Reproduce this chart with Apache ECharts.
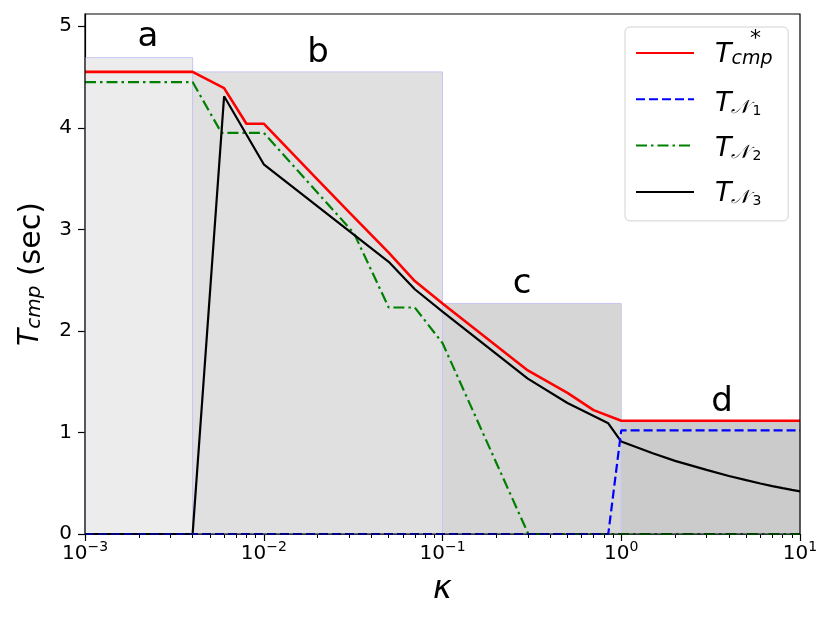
<!DOCTYPE html>
<html><head><meta charset="utf-8">
<script src="https://cdn.jsdelivr.net/npm/echarts@6/dist/echarts.min.js"></script>
<style>html,body{margin:0;padding:0;background:#fff}#c{width:830px;height:623px}</style>
</head><body><div id="c"></div>
<script>
// ---- data ----
const kCmp = [0.001, 0.004, 0.006, 0.008, 0.01, 0.02, 0.03, 0.05, 0.07, 0.1, 0.3, 0.5, 0.7, 1, 10];
const tCmp = [4.55, 4.55, 4.39, 4.04, 4.04, 3.49, 3.17, 2.77, 2.49, 2.27, 1.61, 1.39, 1.22, 1.115, 1.115];

const kN1 = [0.001, 0.846, 1, 10];
const tN1 = [0, 0, 1.02, 1.02];

const kN2 = [0.001, 0.004, 0.0058, 0.01, 0.032, 0.05, 0.07, 0.1, 0.302, 10];
const tN2 = [4.45, 4.45, 3.95, 3.95, 2.96, 2.23, 2.23, 1.88, 0, 0];

const kN3 = [0.001, 0.004, 0.006, 0.01, 0.05, 0.07, 0.1, 0.3, 0.5, 0.846, 1, 1.5, 2, 3, 4, 5, 6, 7, 8, 9, 10];
const tN3 = [0, 0, 4.31, 3.64, 2.68, 2.41, 2.19, 1.53, 1.29, 1.09, 0.91, 0.795, 0.72, 0.631, 0.571, 0.53, 0.497, 0.472, 0.451, 0.434, 0.42];

const regionNames = ['a', 'b', 'c', 'd'];
const regionStart = [0.001, 0.004, 0.1, 1];
const regionEnd = [0.004, 0.1, 1, 10];
const regionHeight = [4.69, 4.55, 2.27, 1.11];
const regionLabelK = [0.00225, 0.0201, 0.279, 3.66];
const regionLabelT = [4.89, 4.73, 2.46, 1.30];

const xMajorTicks = [0.001, 0.01, 0.1, 1, 10];
const xMinorTicks = [0.002, 0.003, 0.004, 0.005, 0.006, 0.007, 0.008, 0.009,
  0.02, 0.03, 0.04, 0.05, 0.06, 0.07, 0.08, 0.09,
  0.2, 0.3, 0.4, 0.5, 0.6, 0.7, 0.8, 0.9,
  2, 3, 4, 5, 6, 7, 8, 9];
const yTicks = [0, 1, 2, 3, 4, 5];

const seriesNames = ['Tcmp*', 'TN1', 'TN2', 'TN3'];

// ---- styles ----
const FONT = 'DejaVu Sans';
const regionColors = ['#ececec', '#e0e0e0', '#d6d6d6', '#cbcbcb'];

function pairs(ks, ts) { return ks.map((k, i) => [k, ts[i]]); }

const chart = echarts.init(document.getElementById('c'), null, {renderer: 'canvas'});

const supMinus = v => {
  const e = Math.round(Math.log10(v));
  return '{b|10}{sup|' + (e < 0 ? '\u2212' + (-e) : String(e)) + '}';
};

const legendRich = {
  T: {fontFamily: FONT, fontStyle: 'italic', fontSize: 27, lineHeight: 28, verticalAlign: 'top', color: '#000'},
  s: {fontFamily: FONT, fontStyle: 'italic', fontSize: 19, lineHeight: 10, verticalAlign: 'bottom', color: '#000'},
  ss: {fontFamily: FONT, fontSize: 14, lineHeight: 2, verticalAlign: 'bottom', color: '#000', padding: [0, 0, 0, 3]}
};
const legendTexts = [
  '{T|T}{s|cmp}',
  '{T|T}{s|\u{1D4A9}}{ss|1}',
  '{T|T}{s|\u{1D4A9}}{ss|2}',
  '{T|T}{s|\u{1D4A9}}{ss|3}'
];
const legendTops = [41, 90, 135, 180];

const graphics = legendTexts.map((t, i) => ({
  type: 'text', left: 715, top: legendTops[i], z: 100,
  style: {text: t, rich: legendRich, fontFamily: FONT}
}));
graphics.push({type: 'text', left: 750, top: 28, z: 100,
  style: {text: '*', fontFamily: FONT, fontSize: 22, fill: '#000'}});

const option = {
  animation: false,
  backgroundColor: '#fff',
  textStyle: {fontFamily: FONT},
  grid: {left: 85, right: 30, top: 14, bottom: 89, show: true, borderColor: '#000', borderWidth: 1.2, backgroundColor: 'transparent', z: 10},
  legend: {
    orient: 'vertical', left: 625, top: 27,
    itemWidth: 58, itemHeight: 14, itemGap: 32.3,
    padding: [19, 86, 22, 10],
    backgroundColor: '#fff', borderColor: '#d2d2d2', borderWidth: 1, borderRadius: 5,
    textStyle: {fontSize: 10, lineHeight: 14},
    itemStyle: {opacity: 0},
    selectedMode: false,
    formatter: () => ' ',
    data: seriesNames
  },
  graphic: graphics,
  xAxis: [{
    type: 'log', logBase: 10, min: 0.001, max: 10,
    name: '\u03BA', nameLocation: 'middle', nameGap: 40,
    nameTextStyle: {fontFamily: FONT, fontStyle: 'italic', fontSize: 32, color: '#000'},
    axisLine: {show: true, onZero: false, lineStyle: {color: '#000', width: 1.2}},
    axisTick: {show: true, inside: false, length: 7, lineStyle: {color: '#000', width: 1.2}, customValues: xMajorTicks},
    axisLabel: {
      show: true, margin: 6, color: '#000', customValues: xMajorTicks,
      formatter: supMinus,
      rich: {
        b: {fontFamily: FONT, fontSize: 20, lineHeight: 24, verticalAlign: 'bottom', color: '#000'},
        sup: {fontFamily: FONT, fontSize: 14, lineHeight: 16, verticalAlign: 'top', color: '#000'}
      }
    },
    splitLine: {show: false}, minorTick: {show: false}, minorSplitLine: {show: false}
  }, {
    type: 'log', logBase: 10, min: 0.001, max: 10, position: 'bottom', gridIndex: 0,
    axisLine: {show: false},
    axisTick: {show: true, inside: false, length: 4, lineStyle: {color: '#000', width: 1}, customValues: xMinorTicks},
    axisLabel: {show: false},
    splitLine: {show: false}
  }],
  yAxis: {
    type: 'value', min: 0, max: 5.12,
    name: '{T|T}{s|cmp}{n| (sec)}', nameLocation: 'middle', nameGap: 40, nameRotate: 90,
    nameTextStyle: {
      fontFamily: FONT, color: '#000',
      rich: {
        T: {fontFamily: FONT, fontStyle: 'italic', fontSize: 28, lineHeight: 28, verticalAlign: 'top', color: '#000'},
        s: {fontFamily: FONT, fontStyle: 'italic', fontSize: 20, lineHeight: 8, verticalAlign: 'bottom', color: '#000'},
        n: {fontFamily: FONT, fontSize: 30, lineHeight: 28, verticalAlign: 'top', color: '#000'}
      }
    },
    axisLine: {show: true, lineStyle: {color: '#000', width: 1.2}},
    axisTick: {show: true, inside: false, length: 7, lineStyle: {color: '#000', width: 1.2}, customValues: yTicks},
    axisLabel: {show: true, margin: 13, color: '#000', fontFamily: FONT, fontSize: 20, customValues: yTicks},
    splitLine: {show: false}
  },
  series: [
    {
      type: 'custom', name: 'regions', z: 1, silent: true,
      encode: {x: [0, 1], y: 2},
      data: regionNames.map((n, i) => [regionStart[i], regionEnd[i], regionHeight[i], i]),
      renderItem: (params, api) => {
        const p0 = api.coord([api.value(0), 0]);
        const p1 = api.coord([api.value(1), api.value(2)]);
        return {
          type: 'rect',
          shape: {x: p0[0], y: p1[1], width: p1[0] - p0[0], height: p0[1] - p1[1]},
          style: {fill: regionColors[api.value(3)], stroke: '#c6c6f2', lineWidth: 1}
        };
      }
    },
    {
      type: 'custom', name: 'labels', z: 2, silent: true, clip: false,
      encode: {x: 0, y: 1},
      data: regionNames.map((n, i) => [regionLabelK[i], regionLabelT[i], i]),
      renderItem: (params, api) => {
        const p = api.coord([api.value(0), api.value(1)]);
        return {
          type: 'text', x: p[0], y: p[1],
          style: {text: regionNames[api.value(2)], fill: '#000', fontFamily: FONT, fontSize: 34, align: 'center', verticalAlign: 'middle'}
        };
      }
    },
    {
      type: 'line', name: seriesNames[0], z: 5, symbol: 'none', showSymbol: false,
      data: pairs(kCmp, tCmp), color: '#ff0000',
      lineStyle: {color: '#ff0000', width: 2.6}
    },
    {
      type: 'line', name: seriesNames[1], z: 6, symbol: 'none', showSymbol: false,
      data: pairs(kN1, tN1), color: '#0000ff',
      lineStyle: {color: '#0000ff', width: 2.2, type: [9, 4]}
    },
    {
      type: 'line', name: seriesNames[2], z: 5, symbol: 'none', showSymbol: false,
      data: pairs(kN2, tN2), color: '#008000',
      lineStyle: {color: '#008000', width: 2.2, type: [11, 4, 2.5, 4]}
    },
    {
      type: 'line', name: seriesNames[3], z: 5, symbol: 'none', showSymbol: false,
      data: pairs(kN3, tN3), color: '#000000',
      lineStyle: {color: '#000000', width: 2.2}
    }
  ]
};
chart.setOption(option);
</script></body></html>
